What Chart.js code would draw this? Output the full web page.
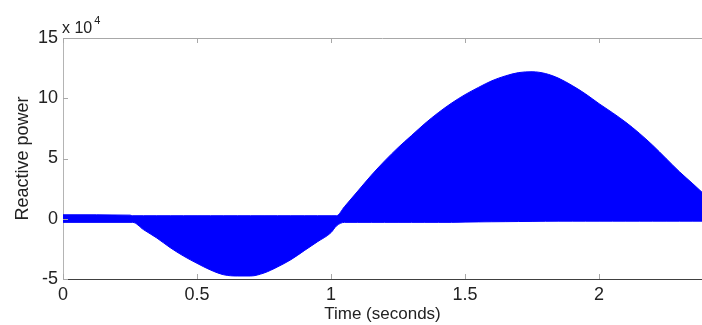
<!DOCTYPE html>
<html lang="en">

<head>
    <meta charset="UTF-8">
    <script src="https://cdn.jsdelivr.net/npm/chart.js"></script>
    <style>
        html, body {
            margin: 0;
            padding: 0;
            background: #fff;
        }

        #wrap {
            width: 702px;
            height: 325px;
        }
    </style>
</head>

<body>
    <div id="wrap">
        <canvas id="qChart" width="702" height="325"></canvas>
    </div>

    <script>
        // time (s) and the envelope of the reactive power trace (var)
        const times = [0, 0.25, 0.26, 0.3, 0.35, 0.4, 0.45, 0.5, 0.55, 0.6, 0.65, 0.7, 0.75, 0.8, 0.85, 0.9, 0.95, 1.0, 1.02,
            1.05, 1.1, 1.15, 1.2, 1.25, 1.3, 1.35, 1.4, 1.45, 1.5, 1.55, 1.6, 1.65, 1.7, 1.75, 1.8, 1.85, 1.9, 1.95, 2.0,
            2.05, 2.1, 2.15, 2.2, 2.25, 2.3, 2.35, 2.384];
        const upperQ = [3300, 3000, 2500, 2500, 2500, 2500, 2500, 2500, 2500, 2500, 2500, 2500, 2500, 2500, 2500, 2500, 2500, 2500, 2500,
            10000, 23000, 36000, 48000, 59000, 69000, 79000, 88000, 96000, 103000, 109000, 114500, 118500, 121300, 122000, 120500,
            116500, 110500, 103500, 95500, 88000, 80000, 71000, 61000, 50000, 39000, 29000, 22000];
        const lowerQ = [-3000, -3000, -3000, -9000, -16000, -24000, -31000, -37000, -42500, -46500, -47500, -47500, -45000, -40000,
            -34000, -26500, -19000, -11500, -6000, -3000, -3000, -3000, -3000, -3000, -3000, -3000, -3000, -3000, -2800, -2600,
            -2500, -2400, -2300, -2200, -2100, -2000, -2000, -2000, -2000, -2000, -2000, -2000, -2000, -2000, -2000, -2000, -2000];

        const xTicks = [0, 0.5, 1, 1.5, 2];
        const yTicks = [-50000, 0, 50000, 100000, 150000];

        const font = 'Liberation Sans, Arial, sans-serif';

        const upperPts = times.map((t, i) => ({ x: t, y: upperQ[i] }));
        const lowerPts = times.map((t, i) => ({ x: t, y: lowerQ[i] }));

        // matlab style: ticks pointing inside, top border, exponent label
        const matlabAxes = {
            id: 'matlabAxes',
            afterDraw(chart) {
                const ctx = chart.ctx;
                const a = chart.chartArea;
                const xs = chart.scales.x;
                const ys = chart.scales.y;
                ctx.save();
                ctx.lineWidth = 1;
                ctx.strokeStyle = '#a8a8a8';
                ctx.beginPath();
                ctx.moveTo(a.left, a.top + 0.5);
                ctx.lineTo(a.right, a.top + 0.5);
                xTicks.forEach(v => {
                    const px = Math.round(xs.getPixelForValue(v)) + 0.5;
                    ctx.moveTo(px, a.bottom);
                    ctx.lineTo(px, a.bottom - 5);
                    ctx.moveTo(px, a.top);
                    ctx.lineTo(px, a.top + 5);
                });
                yTicks.forEach(v => {
                    const py = Math.round(ys.getPixelForValue(v)) + 0.5;
                    ctx.moveTo(a.left, py);
                    ctx.lineTo(a.left + 5, py);
                });
                ctx.stroke();

                ctx.fillStyle = '#222';
                ctx.textBaseline = 'alphabetic';
                ctx.textAlign = 'left';
                ctx.font = '16px ' + font;
                const base = 'x 10';
                ctx.fillText(base, a.left - 1, a.top - 5);
                const w = ctx.measureText(base).width;
                ctx.font = '11px ' + font;
                ctx.fillText('4', a.left + w + 1, a.top - 14);
                ctx.restore();
            }
        };

        new Chart(document.getElementById('qChart'), {
            type: 'line',
            data: {
                datasets: [
                    {
                        label: 'upper',
                        data: upperPts,
                        borderColor: '#0000ff',
                        backgroundColor: '#0000ff',
                        borderWidth: 1,
                        pointRadius: 0,
                        fill: '+1',
                        cubicInterpolationMode: 'monotone'
                    },
                    {
                        label: 'lower',
                        data: lowerPts,
                        borderColor: '#0000ff',
                        backgroundColor: '#0000ff',
                        borderWidth: 1,
                        pointRadius: 0,
                        fill: false,
                        cubicInterpolationMode: 'monotone'
                    }
                ]
            },
            options: {
                responsive: false,
                animation: false,
                layout: {
                    padding: { top: 38, right: 0, left: 0, bottom: 0 }
                },
                plugins: {
                    legend: { display: false },
                    tooltip: { enabled: false }
                },
                scales: {
                    x: {
                        type: 'linear',
                        min: 0,
                        max: 2.384,
                        afterBuildTicks: s => { s.ticks = xTicks.map(v => ({ value: v })); },
                        afterFit: s => { s.height = 46; },
                        grid: { drawOnChartArea: false, drawTicks: false },
                        border: { display: true, color: '#404040', width: 1 },
                        ticks: {
                            autoSkip: false,
                            maxRotation: 0,
                            padding: 5,
                            color: '#222',
                            font: { family: font, size: 18 },
                            callback: v => String(v)
                        },
                        title: {
                            display: true,
                            text: 'Time (seconds)',
                            color: '#222',
                            padding: { top: 0, bottom: 0 },
                            font: { family: font, size: 17 }
                        }
                    },
                    y: {
                        min: -50000,
                        max: 150000,
                        afterBuildTicks: s => { s.ticks = yTicks.map(v => ({ value: v })); },
                        afterFit: s => { s.width = 63; },
                        grid: { drawOnChartArea: false, drawTicks: false },
                        border: { display: true, color: '#b4b4b4', width: 1 },
                        ticks: {
                            padding: 5,
                            color: '#222',
                            font: { family: font, size: 18 },
                            callback: v => String(v / 10000)
                        },
                        title: {
                            display: true,
                            text: 'Reactive power',
                            color: '#222',
                            padding: { top: 12, bottom: 4 },
                            font: { family: font, size: 18 }
                        }
                    }
                }
            },
            plugins: [matlabAxes]
        });
    </script>
</body>

</html>
